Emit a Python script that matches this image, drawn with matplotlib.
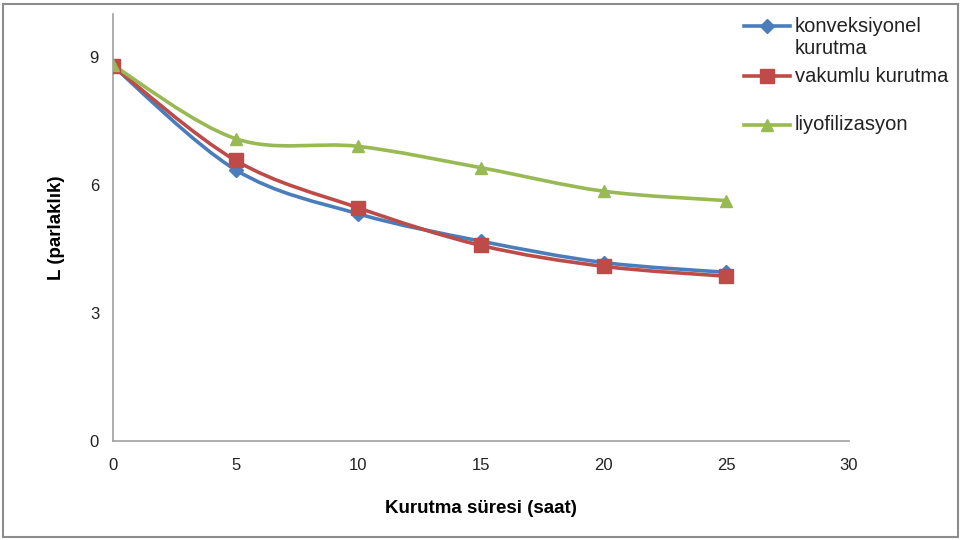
import numpy as np
import matplotlib.pyplot as plt
from matplotlib.lines import Line2D
from matplotlib.patches import Rectangle
from matplotlib.path import Path
from matplotlib.patches import PathPatch

plt.rcParams['font.family'] = ['Liberation Sans Narrow', 'Liberation Sans', 'DejaVu Sans']

saat = [0, 5, 10, 15, 20, 25]
konveksiyonel = [8.78, 6.35, 5.32, 4.68, 4.18, 3.95]
vakumlu = [8.78, 6.57, 5.46, 4.58, 4.09, 3.86]
liyofilizasyon = [8.8, 7.08, 6.9, 6.4, 5.85, 5.63]

etiketler = ["konveksiyonel\nkurutma", "vakumlu kurutma", "liyofilizasyon"]
renkler = ["#4A7EBB", "#BE4B48", "#98B954"]
isaretler = ["D", "s", "^"]
boyutlar = [7, 10, 9]


def yumusak_yol(x, y):
    # smoothed curve through the points (cubic bezier, catmull-rom style)
    p = np.column_stack([x, y]).astype(float)
    n = len(p)
    verts = [p[0]]
    codes = [Path.MOVETO]
    for i in range(n - 1):
        p0 = p[i - 1] if i > 0 else p[i]
        p1 = p[i]
        p2 = p[i + 1]
        p3 = p[i + 2] if i + 2 < n else p[i + 1]
        c1 = p1 + (p2 - p0) / 6.0
        c2 = p2 - (p3 - p1) / 6.0
        verts += [c1, c2, p2]
        codes += [Path.CURVE4] * 3
    return Path(verts, codes)


fig = plt.figure(figsize=(9.63, 5.4), dpi=100)
ax = fig.add_axes([113 / 963, 99 / 540, 736 / 963, 427 / 540])

seriler = [konveksiyonel, vakumlu, liyofilizasyon]
for seri, renk, isaret, boy in zip(seriler, renkler, isaretler, boyutlar):
    ax.add_patch(PathPatch(yumusak_yol(saat, seri), facecolor='none',
                           edgecolor=renk, lw=2.6, zorder=2))
    ax.plot(saat, seri, linestyle='none', marker=isaret, markersize=boy,
            color=renk, zorder=3)

ax.set_xlim(0, 30)
ax.set_ylim(0, 10)
ax.set_xticks([0, 5, 10, 15, 20, 25, 30])
ax.set_yticks([0, 3, 6, 9])
ax.tick_params(length=0, labelsize=12, colors='#222222')
ax.tick_params(axis='x', pad=12)
ax.tick_params(axis='y', pad=10)
for s in ['top', 'right']:
    ax.spines[s].set_visible(False)
for s in ['left', 'bottom']:
    ax.spines[s].set_color('#A0A0A0')
    ax.spines[s].set_linewidth(1.2)

ax.set_xlabel("Kurutma süresi (saat)", fontsize=13.5, fontweight='bold', labelpad=20)
ax.set_ylabel("L (parlaklık)", fontsize=13.5, fontweight='bold', labelpad=18)

# legend drawn by hand on the right side
leg_y = [26, 76, 125]
for lab, renk, isaret, boy, yy in zip(etiketler, renkler, isaretler, boyutlar, leg_y):
    yf = 1 - yy / 540
    fig.add_artist(Line2D([744 / 963, 790 / 963], [yf, yf], color=renk, lw=2.6,
                          transform=fig.transFigure))
    fig.add_artist(Line2D([767 / 963], [yf], color=renk, marker=isaret,
                          markersize=boy, transform=fig.transFigure))
    for k, satir in enumerate(lab.split('\n')):
        fig.text(795 / 963, 1 - (yy + 22 * k) / 540, satir, fontsize=14.5,
                 va='center', color='#222222')

fig.add_artist(Rectangle((3 / 963, 3 / 540), 955 / 963, 533 / 540, fill=False,
                         edgecolor='#8C8C8C', lw=1.5, transform=fig.transFigure))

fig.savefig("out.png", dpi=100)
